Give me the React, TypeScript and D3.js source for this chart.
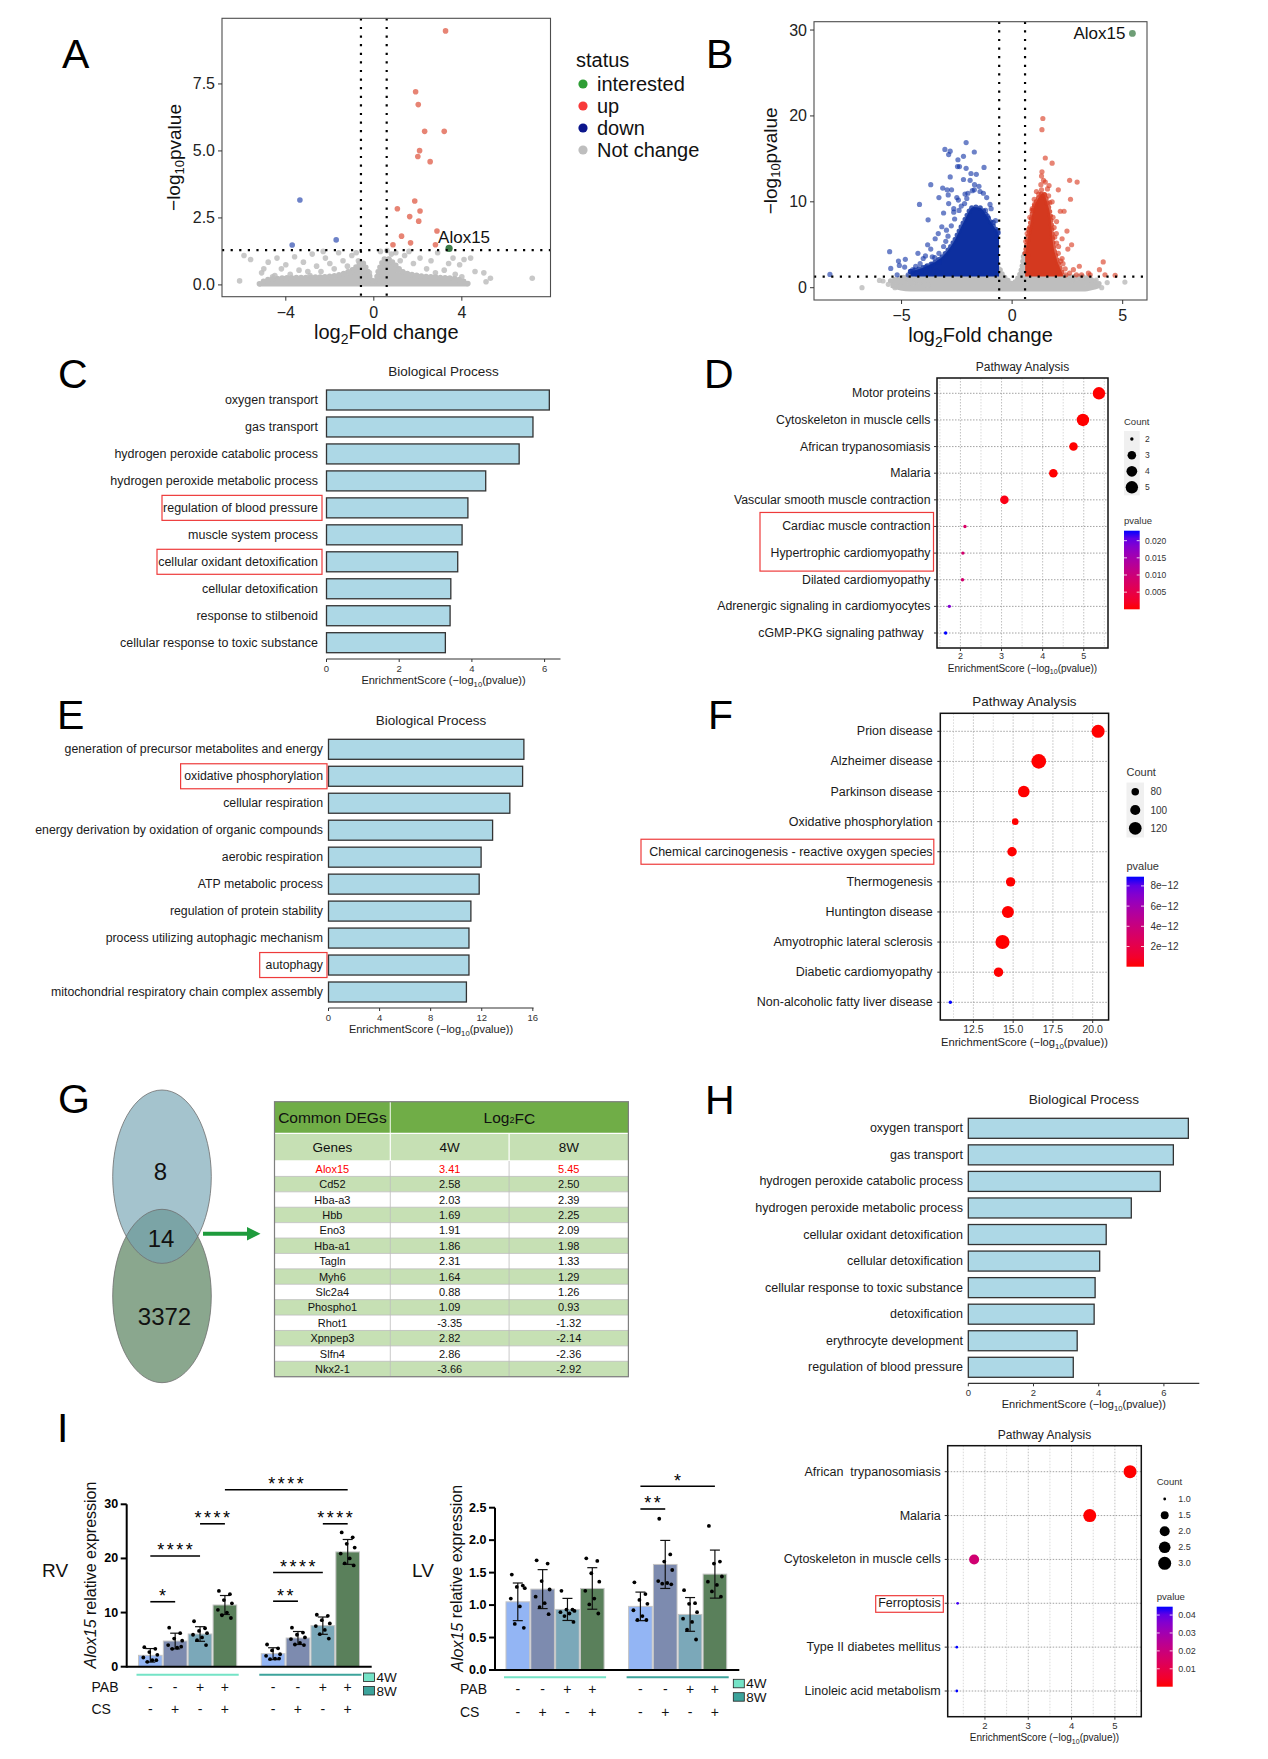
import React from "react";
import * as d3 from "d3";

const FONT = "'Liberation Sans', Arial, Helvetica, sans-serif";
type P2 = [number, number];
type P3 = [number, number, number];

/* ---------------- thresholds ---------------- */
const fcCut = 0.585;
const pCut = 1.301;

/* ---------------- A: volcano ---------------- */
const aUp: P2[] = [[3.26,9.48],[1.9,7.21],[2.02,6.73],[2.31,5.73],[3.2,5.73],[2.08,5.01],[2.0,4.79],[2.56,4.6],[1.86,3.13],[1.07,2.84],[2.1,2.76],[1.63,2.55],[2.04,2.38],[2.87,2.01],[1.26,1.82],[1.67,1.57],[0.87,1.5],[2.8,1.5]];
const aDown: P2[] = [[-3.36,3.17],[-1.71,1.68],[-3.71,1.49]];
const aInterested: P2[] = [[3.42,1.36]];
const aGreyCore: P3[] = [[-5.2,-0.06,0.04],[-4.8,-0.06,0.2],[-4.0,-0.06,0.26],[-3.0,-0.06,0.28],[-2.0,-0.06,0.32],[-1.4,-0.06,0.42],[-0.9,-0.06,0.6],[-0.55,-0.06,0.85],[-0.3,-0.06,0.55],[-0.1,-0.06,0.18],[0,-0.06,0.1],[0.1,-0.06,0.22],[0.3,-0.06,0.7],[0.55,-0.06,1.0],[0.85,-0.06,0.85],[1.3,-0.06,0.5],[2.0,-0.06,0.35],[3.0,-0.06,0.28],[3.8,-0.06,0.22],[4.3,-0.06,0.04]];
const aGrey: P2[] = [[-6.1,0.15],[-5.9,1.1],[-5.6,0.95],[-5.1,0.45],[-5.0,0.6],[-4.8,0.85],[-4.6,0.3],[-4.4,1.0],[-4.2,0.6],[-4.0,0.75],[-3.8,0.4],[-3.6,1.05],[-3.4,0.55],[-3.2,0.85],[-3.0,0.5],[-2.8,1.15],[-2.6,0.7],[-2.4,0.5],[-2.2,1.0],[-2.0,0.8],[-1.8,0.6],[-1.6,1.2],[-1.4,0.9],[-1.2,0.7],[-1.0,1.1],[-0.8,1.2],[0.3,1.25],[0.6,1.28],[0.8,1.15],[1.0,1.2],[1.2,0.9],[1.4,1.1],[1.6,1.25],[1.8,0.8],[2.1,1.0],[2.4,0.6],[2.6,0.9],[2.9,1.2],[3.2,0.55],[3.4,0.8],[3.6,1.0],[3.7,0.4],[3.9,0.75],[4.1,0.95],[4.4,1.0],[4.6,0.5],[5.0,0.45],[5.1,0.12],[5.3,0.25],[7.2,0.25],[-2.3,1.25],[0.45,0.5],[-0.45,0.5],[1.9,0.3],[-1.9,0.25],[-0.7,0.9],[0.7,0.95],[-0.2,0.45],[0.2,0.5],[-1.1,0.45],[1.1,0.55],[2.8,0.45],[-2.9,0.35],[4.0,0.3],[-4.5,0.35]];
const aXTicks = [-4, 0, 4];
const aYTicks = [0, 2.5, 5, 7.5];

/* ---------------- B: volcano ---------------- */
const bUp: P2[] = [[1.39,19.7],[1.35,18.4],[1.5,15.1],[1.81,14.5],[1.35,13.5],[1.33,13.0],[1.42,12.5],[2.6,12.5],[2.94,12.3],[1.67,11.9],[2.09,11.4],[1.33,11.4],[2.64,10.3],[1.81,10.0],[1.01,9.7],[0.91,9.2],[2.18,8.9],[2.35,8.9],[2.01,7.7],[2.48,6.6],[1.93,5.9],[2.26,5.7],[2.01,5.2],[2.69,5.0],[2.52,4.5],[2.09,4.0],[2.26,3.4],[3.04,2.5],[4.12,3.0],[2.77,2.1],[3.95,2.1],[3.45,1.7],[3.53,1.5],[2.91,1.5],[4.2,1.5],[4.66,1.45],[2.43,1.5],[3.14,1.5],[2.6,1.7],[1.3,12.0],[1.5,12.3],[1.1,11.2],[1.7,9.9],[0.9,9.0],[0.75,6.8],[1.9,7.0],[2.1,4.8],[0.7,3.8],[1.6,11.5],[2.3,2.8],[2.4,2.2],[1.2,10.9],[1.45,10.8],[1.0,10.3],[0.8,8.2],[1.85,8.2],[2.0,6.3],[2.2,3.1],[1.65,10.7],[0.68,6.3],[0.62,5.4]];
const bDown: P2[] = [[-3.04,16.1],[-2.8,15.9],[-2.87,15.5],[-2.08,16.9],[-2.2,15.3],[-2.45,14.9],[-1.71,15.8],[-2.47,14.1],[-2.38,14.1],[-1.27,14.0],[-2.08,13.9],[-1.86,13.3],[-1.62,13.2],[-2.8,12.9],[-2.2,12.6],[-3.68,12.0],[-3.14,11.6],[-2.94,11.4],[-2.74,11.4],[-1.71,11.4],[-2.13,10.9],[-3.31,10.5],[-2.89,10.8],[-2.43,10.2],[-4.19,9.7],[-2.87,9.8],[-2.64,9.2],[-1.2,9.0],[-3.1,8.7],[-2.64,8.8],[-3.8,7.9],[-1.11,8.3],[-3.18,7.1],[-2.97,6.7],[-3.34,6.3],[-3.48,5.7],[-3.82,5.0],[-3.68,4.5],[-5.54,4.2],[-4.26,4.0],[-3.92,3.7],[-4.02,3.4],[-5.14,3.1],[-4.83,3.3],[-5.1,2.6],[-4.86,2.4],[-5.49,2.25],[-4.36,2.5],[-4.49,2.1],[-4.58,1.9],[-5.2,1.5],[-4.7,1.5],[-4.14,1.9],[-3.73,2.1],[-3.41,1.9],[-8.24,1.55],[-4.16,2.8],[-3.61,3.6],[-3.31,4.0],[-1.5,11.8],[-1.7,12.0],[-1.3,11.0],[-1.0,9.7],[-2.0,11.0],[-2.3,9.5],[-2.6,8.0],[-2.9,6.0],[-3.1,4.8],[-3.5,3.5],[-0.85,7.6],[-0.7,5.8],[-1.15,10.5],[-1.9,12.5],[-2.5,10.5],[-2.75,7.2],[-3.0,5.4],[-3.3,3.0],[-2.4,9.0],[-2.15,9.8],[-1.45,11.2],[-0.95,9.2],[-0.75,7.8],[-0.65,6.6],[-3.9,2.4],[-4.3,1.6],[-3.6,2.7],[-2.05,10.4],[-1.8,11.3]];
const bInterested: P2[] = [[5.44,29.6]];
const bDownCore: P3[] = [[-4.6,1.3,1.9],[-3.8,1.3,2.6],[-3.25,1.3,3.4],[-2.65,1.3,5.3],[-2.2,1.3,7.6],[-1.75,1.3,9.4],[-1.45,1.3,9.3],[-1.1,1.3,8.2],[-0.8,1.3,7.0],[-0.62,1.3,6.3],[-0.59,1.3,6.0]];
const bUpCore: P3[] = [[0.59,1.3,4.0],[0.65,1.3,4.8],[0.95,1.3,9.0],[1.2,1.3,10.5],[1.4,1.3,11.0],[1.6,1.3,9.8],[1.75,1.3,8.0],[1.85,1.3,5.2],[2.0,1.3,3.5],[2.15,1.3,2.4],[2.3,1.3,1.5]];
const bGreyCore: P3[] = [[-5.5,0.0,0.8],[-4.6,-0.45,1.3],[-1.0,-0.45,1.3],[-0.6,-0.45,2.3],[-0.45,-0.45,1.6],[-0.2,-0.45,0.9],[0,-0.45,0.5],[0.2,-0.45,0.9],[0.45,-0.45,2.5],[0.55,-0.45,4.0],[0.62,-0.45,1.3],[3.2,-0.45,1.3],[3.6,-0.3,0.9],[4.0,0.0,0.4]];
const bGrey: P2[] = [[-6.79,0],[-5.3,0],[-5.84,0.78],[-5.2,0.7],[-4.83,0.5],[4.05,0],[5.1,0.66],[3.6,0.9],[2.94,1.1],[2.69,0.9],[3.28,0.5],[-4.16,0.7],[-3.82,0.3],[-4.5,0.5],[-0.6,2.2],[-0.65,1.9],[0.58,3.6],[0.55,2.9],[0.62,2.5],[-0.55,1.6],[0.5,2.0],[-6.0,0.85],[-4.2,0.9],[3.8,0.9],[4.3,0.6],[-5.6,0.4]];
const bXTicks = [-5, 0, 5];
const bYTicks = [0, 10, 20, 30];

/* ---------------- GO bar data ---------------- */
const cTerms = ["oxygen transport","gas transport","hydrogen peroxide catabolic process","hydrogen peroxide metabolic process","regulation of blood pressure","muscle system process","cellular oxidant detoxification","cellular detoxification","response to stilbenoid","cellular response to toxic substance"];
const cScores = [6.13,5.68,5.3,4.38,3.89,3.73,3.61,3.42,3.40,3.27];
const cTicks = [0, 2, 4, 6];

const eTerms = ["generation of precursor metabolites and energy","oxidative phosphorylation","cellular respiration","energy derivation by oxidation of organic compounds","aerobic respiration","ATP metabolic process","regulation of protein stability","process utilizing autophagic mechanism","autophagy","mitochondrial respiratory chain complex assembly"];
const eScores = [15.3,15.2,14.2,12.85,11.95,11.8,11.15,11.0,11.0,10.8];
const eTicks = [0, 4, 8, 12, 16];

const hTerms = ["oxygen transport","gas transport","hydrogen peroxide catabolic process","hydrogen peroxide metabolic process","cellular oxidant detoxification","cellular detoxification","cellular response to toxic substance","detoxification","erythrocyte development","regulation of blood pressure"];
const hScores = [6.75,6.29,5.89,5.0,4.23,4.03,3.89,3.86,3.34,3.22];
const hTicks = [0, 2, 4, 6];

/* ---------------- pathway dot data ---------------- */
const dTerms = ["Motor proteins","Cytoskeleton in muscle cells","African trypanosomiasis","Malaria","Vascular smooth muscle contraction","Cardiac muscle contraction","Hypertrophic cardiomyopathy","Dilated cardiomyopathy","Adrenergic signaling in cardiomyocytes","cGMP-PKG signaling pathway  "];
const dScores = [5.37,4.98,4.75,4.26,3.07,2.11,2.06,2.05,1.73,1.64];
const dCounts = [5,5,3,3,3,2,2,2,2,2];
const dTicks = [2, 3, 4, 5];
const dCountLegend = [2, 3, 4, 5];
const dPLegend = [0.02, 0.015, 0.01, 0.005];

const fTerms = ["Prion disease","Alzheimer disease","Parkinson disease","Oxidative phosphorylation","Chemical carcinogenesis - reactive oxygen species","Thermogenesis","Huntington disease","Amyotrophic lateral sclerosis","Diabetic cardiomyopathy","Non-alcoholic fatty liver disease"];
const fScores = [20.34,16.61,15.67,15.13,14.93,14.84,14.67,14.33,14.08,11.05];
const fCounts = [123,135,112,73,95,95,115,131,95,48];
const fTicks = [12.5, 15, 17.5, 20];
const fCountLegend = [80, 100, 120];
const fPLegend = [8e-12, 6e-12, 4e-12, 2e-12];

const iTerms = ["African  trypanosomiasis","Malaria","Cytoskeleton in muscle cells","Ferroptosis","Type II diabetes mellitus","Linoleic acid metabolism"];
const iScores = [5.35,4.42,1.75,1.37,1.35,1.35];
const iCounts = [3,3,2,1,1,1];
const iTicks = [2, 3, 4, 5];
const iCountLegend = [1, 1.5, 2, 2.5, 3];
const iPLegend = [0.04, 0.03, 0.02, 0.01];

/* ---------------- G: table ---------------- */
const genes = ["Alox15","Cd52","Hba-a3","Hbb","Eno3","Hba-a1","Tagln","Myh6","Slc2a4","Phospho1","Rhot1","Xpnpep3","Slfn4","Nkx2-1"];
const fc4w = [3.41,2.58,2.03,1.69,1.91,1.86,2.31,1.64,0.88,1.09,-3.35,2.82,2.86,-3.66];
const fc8w = [5.45,2.50,2.39,2.25,2.09,1.98,1.33,1.29,1.26,0.93,-1.32,-2.14,-2.36,-2.92];
const vennCounts = { only4w: 8, common: 14, only8w: 3372 };

/* ---------------- I: qPCR ---------------- */
const weeks = ["4W", "8W"];
const pabSigns = ["-", "-", "+", "+"];
const csSigns = ["-", "+", "-", "+"];
const rvMeans = [2.1,4.74,6.04,11.4,2.4,5.3,7.58,21.2];
const rvSD = [1.25,1.45,1.35,1.75,1.1,1.2,1.6,2.3];
const rvDots = [
  [3.6,3.3,2.7,2.2,1.7,1.2,0.9,1.2],
  [7.2,6.2,5.2,4.8,4.0,3.5,3.3,3.7],
  [8.4,7.1,6.6,6.2,5.9,5.4,4.9,4.0],
  [14.0,13.4,12.3,11.7,10.5,10.0,9.5,9.0],
  [4.1,3.4,3.0,2.3,2.0,1.5,1.4,1.5],
  [7.2,6.3,5.9,5.4,5.1,4.4,4.1,4.0],
  [9.6,9.4,8.6,8.0,7.5,6.8,6.0,5.2],
  [24.8,23.9,22.7,22.0,20.9,20.0,19.1,18.7],
];
const rvTicks = [0, 10, 20, 30];
const rvSig = [
  { a: 0, b: 1, y: 12.0, t: "*" },
  { a: 0, b: 2, y: 20.45, t: "****" },
  { a: 2, b: 3, y: 26.4, t: "****" },
  { a: 4, b: 5, y: 12.1, t: "**" },
  { a: 4, b: 6, y: 17.4, t: "****" },
  { a: 6, b: 7, y: 26.4, t: "****" },
  { a: 3, b: 7, y: 32.7, t: "****" },
];
const lvMeans = [1.05,1.246,0.933,1.256,0.98,1.626,0.856,1.477];
const lvSD = [0.29,0.30,0.17,0.32,0.22,0.37,0.26,0.37];
const lvDots = [
  [1.47,1.30,1.28,1.26,1.1,0.98,0.71,0.65],
  [1.69,1.64,1.37,1.24,1.13,1.03,0.97,0.86],
  [1.22,0.93,0.93,0.91,0.89,0.87,0.83,0.74],
  [1.72,1.68,1.49,1.36,1.22,1.10,1.01,0.87],
  [1.35,1.17,1.08,1.02,0.92,0.83,0.77,0.77],
  [2.33,1.78,1.67,1.54,1.37,1.34,1.33,1.32],
  [1.23,1.03,1.02,0.89,0.79,0.74,0.62,0.47],
  [2.22,1.67,1.64,1.44,1.36,1.31,1.21,1.13],
];
const lvTicks = [0, 0.5, 1, 1.5, 2, 2.5];
const lvSig = [
  { a: 4, b: 5, y: 2.48, t: "**" },
  { a: 4, b: 7, y: 2.83, t: "*" },
];

/* ---------------- styles ---------------- */
const barColors = ["#93B5F4", "#7D8BAF", "#7BA8B9", "#5A805B"];
const weekColors = ["#74E3C6", "#3CA39B"];
const dotOffsets = [-6, 5, -1, 7, -7, 2, -3, 6];

function EnrichTitle({ x, y, fs }: any) {
  return (
    <text x={x} y={y} fontSize={fs} textAnchor="middle" fill="#222">
      EnrichmentScore (−log
      <tspan fontSize={fs * 0.7} dy={fs * 0.25}>10</tspan>
      <tspan dy={-fs * 0.25}>(pvalue))</tspan>
    </text>
  );
}

function Volcano(p: any) {
  const xs = d3.scaleLinear().domain(p.xDom).range([p.x0, p.x1]);
  const ys = d3.scaleLinear().domain(p.yDom).range([p.y1, p.y0]);
  const area = d3.area<P3>().x((d) => xs(d[0])).y0((d) => ys(d[1])).y1((d) => ys(d[2])).curve(d3.curveMonotoneX);
  const top = d3.line<P3>().x((d) => xs(d[0])).y((d) => ys(d[2])).curve(d3.curveMonotoneX);
  const cid = `clip-${p.id}`;
  const r = p.r;
  const dash = { stroke: "#000", strokeWidth: 2.2, strokeDasharray: "2.2,6.4" };
  const fs = 16;
  const bead = (core: P3[], color: string, op: number) => (
    <path d={top(core) || ""} fill="none" stroke={color} strokeOpacity={op} strokeWidth={r * 2} strokeLinecap="round" strokeDasharray={`0,${r * 1.7}`} />
  );
  return (
    <g>
      <defs>
        <clipPath id={cid}>
          <rect x={p.x0} y={p.y0} width={p.x1 - p.x0} height={p.y1 - p.y0} />
        </clipPath>
      </defs>
      <g clipPath={`url(#${cid})`}>
        <path d={area(p.greyCore) || ""} fill="#BEBEBE" />
        {bead(p.greyCore, "#BEBEBE", 1)}
        {p.grey.map((d: P2, i: number) => (
          <circle key={"g" + i} cx={xs(d[0])} cy={ys(d[1])} r={r} fill="#BEBEBE" fillOpacity={0.85} />
        ))}
        {p.downCore && <path d={area(p.downCore) || ""} fill="#0D2F9F" />}
        {p.downCore && bead(p.downCore, "#0D2F9F", 0.8)}
        {p.down.map((d: P2, i: number) => (
          <circle key={"d" + i} cx={xs(d[0])} cy={ys(d[1])} r={r} fill="#0B2FA3" fillOpacity={0.6} />
        ))}
        {p.upCore && <path d={area(p.upCore) || ""} fill="#D4391F" />}
        {p.upCore && bead(p.upCore, "#D4391F", 0.8)}
        {p.up.map((d: P2, i: number) => (
          <circle key={"u" + i} cx={xs(d[0])} cy={ys(d[1])} r={r} fill="#D9381E" fillOpacity={0.62} />
        ))}
        {p.interest.map((d: P2, i: number) => (
          <circle key={"i" + i} cx={xs(d[0])} cy={ys(d[1])} r={r + 0.8} fill={p.interestFill} />
        ))}
        <line x1={xs(-fcCut)} x2={xs(-fcCut)} y1={p.y0} y2={p.y1} {...dash} />
        <line x1={xs(fcCut)} x2={xs(fcCut)} y1={p.y0} y2={p.y1} {...dash} />
        <line x1={p.x0} x2={p.x1} y1={ys(pCut)} y2={ys(pCut)} {...dash} />
      </g>
      <rect x={p.x0} y={p.y0} width={p.x1 - p.x0} height={p.y1 - p.y0} fill="none" stroke="#4d4d4d" strokeWidth={1.1} />
      {p.xTicks.map((t: number) => (
        <g key={"xt" + t}>
          <line x1={xs(t)} x2={xs(t)} y1={p.y1} y2={p.y1 + 4} stroke="#333" strokeWidth={1} />
          <text x={xs(t)} y={p.y1 + 21} fontSize={fs} textAnchor="middle" fill="#222">{d3.format("")(t)}</text>
        </g>
      ))}
      {p.yTicks.map((t: number) => (
        <g key={"yt" + t}>
          <line x1={p.x0 - 4} x2={p.x0} y1={ys(t)} y2={ys(t)} stroke="#333" strokeWidth={1} />
          <text x={p.x0 - 7} y={ys(t) + 5.5} fontSize={fs} textAnchor="end" fill="#222">{d3.format(p.yFmt)(t)}</text>
        </g>
      ))}
      <text transform={`translate(${p.yTitleX},${(p.y0 + p.y1) / 2}) rotate(-90)`} textAnchor="middle" dominantBaseline="central" fontSize={19} fill="#111">
        −log<tspan fontSize={13} dy={5}>10</tspan><tspan dy={-5}>pvalue</tspan>
      </text>
      <text x={(p.x0 + p.x1) / 2} y={p.xTitleY} textAnchor="middle" fontSize={20} fill="#111">
        log<tspan fontSize={14} dy={5}>2</tspan><tspan dy={-5}>Fold change</tspan>
      </text>
      <text x={xs(p.interest[0][0]) + p.labelDx} y={ys(p.interest[0][1]) + p.labelDy} textAnchor={p.labelAnchor} fontSize={17} fill="#111">Alox15</text>
    </g>
  );
}

function GoBars(p: any) {
  const xs = d3.scaleLinear().domain([0, p.tickMax]).range([p.xLeft, p.xLeft + p.unit * p.tickMax]);
  const ys = d3.scalePoint<string>().domain(p.terms).range([p.yFirst, p.yLast]);
  const bh = 20;
  return (
    <g>
      <text x={p.cx} y={p.titleY} fontSize={13.5} textAnchor="middle" dominantBaseline="central" fill="#222">Biological Process</text>
      {p.terms.map((t: string, i: number) => (
        <g key={t}>
          <rect x={xs(0)} y={(ys(t) as number) - bh / 2} width={xs(p.scores[i]) - xs(0)} height={bh} fill="#ADD8E6" stroke="#333" strokeWidth={1.3} />
          <text x={p.labelX} y={ys(t)} textAnchor="end" dominantBaseline="central" fontSize={p.labelFs} fill="#1a1a1a">{t}</text>
        </g>
      ))}
      {p.boxes.map((b: any) => (
        <rect key={b.term} x={b.left} y={(ys(b.term) as number) - 12.5} width={p.labelX + 4 - b.left} height={25} fill="none" stroke="#EE3B3B" strokeWidth={1.2} />
      ))}
      <line x1={xs(0)} x2={p.axisEnd} y1={p.axisY} y2={p.axisY} stroke="#333" strokeWidth={1.2} />
      {p.ticks.map((t: number) => (
        <g key={t}>
          <line x1={xs(t)} x2={xs(t)} y1={p.axisY} y2={p.axisY + 3} stroke="#333" />
          <text x={xs(t)} y={p.axisY + 12.5} fontSize={9.5} textAnchor="middle" fill="#333">{t}</text>
        </g>
      ))}
      <EnrichTitle x={p.cx} y={p.xTitleY} fs={11} />
    </g>
  );
}

function sqrtSize(domain: number[], rMin: number, rMax: number) {
  return (v: number) => rMin + (rMax - rMin) * Math.sqrt(Math.max(0, (v - domain[0]) / (domain[1] - domain[0])));
}
function linSize(domain: number[], rMin: number, rMax: number) {
  return (v: number) => rMin + (rMax - rMin) * ((v - domain[0]) / (domain[1] - domain[0]));
}

function Pathway(p: any) {
  const [bx0, bx1, by0, by1] = p.box;
  const xs = d3.scaleLinear().domain(p.xDom).range([bx0, bx1]);
  const ys = d3.scalePoint<string>().domain(p.terms).range([p.yFirst, p.yLast]);
  const pv = p.scores.map((s: number) => Math.pow(10, -s));
  const pMax = d3.max(pv) as number;
  const col = d3.scaleLinear<string>().domain([0, pMax]).range(["#FF0000", "#0000FF"]).interpolate(d3.interpolateLab).clamp(true);
  const L = p.legend;
  const barScale = d3.scaleLinear().domain([0, pMax]).range([L.barY1, L.barY0]);
  const gid = `grad-${p.id}`;
  const stops = d3.range(0, 1.0001, 0.1);
  return (
    <g>
      <text x={(bx0 + bx1) / 2} y={p.titleY} fontSize={p.titleFs} textAnchor="middle" dominantBaseline="central" fill="#222">Pathway Analysis</text>
      <rect x={bx0} y={by0} width={bx1 - bx0} height={by1 - by0} fill="#fff" />
      {p.minor.map((t: number) => (
        <line key={"mi" + t} x1={xs(t)} x2={xs(t)} y1={by0} y2={by1} stroke="#C8C8C8" strokeWidth={0.7} strokeDasharray="1.5,1.5" />
      ))}
      {p.ticks.map((t: number) => (
        <line key={"ma" + t} x1={xs(t)} x2={xs(t)} y1={by0} y2={by1} stroke="#B0B0B0" strokeWidth={0.8} strokeDasharray="1.5,1.5" />
      ))}
      {p.terms.map((t: string) => (
        <line key={"h" + t} x1={bx0} x2={bx1} y1={ys(t)} y2={ys(t)} stroke="#8C8C8C" strokeWidth={0.8} strokeDasharray="1.5,1.5" />
      ))}
      {p.terms.map((t: string, i: number) => (
        <circle key={"c" + t} cx={xs(p.scores[i])} cy={ys(t)} r={p.rFn(p.counts[i])} fill={col(pv[i])} />
      ))}
      <rect x={bx0} y={by0} width={bx1 - bx0} height={by1 - by0} fill="none" stroke="#111" strokeWidth={1.5} />
      {p.terms.map((t: string) => (
        <g key={"l" + t}>
          <line x1={bx0 - 3} x2={bx0} y1={ys(t)} y2={ys(t)} stroke="#333" />
          <text x={p.labelX} y={ys(t)} textAnchor="end" dominantBaseline="central" fontSize={p.labelFs} fill="#1a1a1a" style={{ whiteSpace: "pre" }}>{t}</text>
        </g>
      ))}
      {p.ticks.map((t: number) => (
        <g key={"t" + t}>
          <line x1={xs(t)} x2={xs(t)} y1={by1} y2={by1 + 3} stroke="#333" />
          <text x={xs(t)} y={by1 + p.tickDy} fontSize={p.tickFs} textAnchor="middle" fill="#333">{p.tickFmt(t)}</text>
        </g>
      ))}
      <EnrichTitle x={(bx0 + bx1) / 2} y={p.xTitleY} fs={p.xTitleFs} />
      {p.highlight && (
        <rect x={p.highlight.left} y={(ys(p.highlight.from) as number) - p.highlight.padTop} width={p.highlight.right - p.highlight.left}
          height={(ys(p.highlight.to) as number) - (ys(p.highlight.from) as number) + p.highlight.padTop + p.highlight.padBot}
          fill="none" stroke="#EE3B3B" strokeWidth={1.2} />
      )}
      <text x={L.x} y={L.countTitleY} fontSize={L.titleFs} dominantBaseline="central" fill="#333">Count</text>
      {L.countBg && (
        <rect x={L.x} y={L.countItems[0] - L.countStep / 2} width={L.barW} height={L.countStep * L.countVals.length} fill="#F0F0F0" />
      )}
      {L.countVals.map((v: number, i: number) => (
        <g key={"cl" + v}>
          <circle cx={L.x + L.barW / 2} cy={L.countItems[i]} r={p.rFn(v)} fill="#000" />
          <text x={L.labelX} y={L.countItems[i]} fontSize={L.labelFs} dominantBaseline="central" fill="#333">{L.countFmt(v)}</text>
        </g>
      ))}
      <text x={L.x} y={L.pTitleY} fontSize={L.titleFs} dominantBaseline="central" fill="#333">pvalue</text>
      <defs>
        <linearGradient id={gid} x1="0" y1="1" x2="0" y2="0">
          {stops.map((s: number) => (
            <stop key={s} offset={s} stopColor={col(s * pMax)} />
          ))}
        </linearGradient>
      </defs>
      <rect x={L.x} y={L.barY0} width={L.barW} height={L.barY1 - L.barY0} fill={`url(#${gid})`} />
      {L.pVals.map((v: number) => (
        <g key={"pl" + v}>
          <line x1={L.x} x2={L.x + 3} y1={barScale(v)} y2={barScale(v)} stroke="#fff" strokeWidth={0.8} />
          <line x1={L.x + L.barW - 3} x2={L.x + L.barW} y1={barScale(v)} y2={barScale(v)} stroke="#fff" strokeWidth={0.8} />
          <text x={L.labelX} y={barScale(v)} fontSize={L.labelFs} dominantBaseline="central" fill="#333">{L.pFmt(v)}</text>
        </g>
      ))}
    </g>
  );
}

function Venn() {
  const cx = 162, rx = 49.3, ry = 86.7, cyTop = 1176.7, cyBot = 1296;
  return (
    <g>
      <defs>
        <clipPath id="vennTop">
          <ellipse cx={cx} cy={cyTop} rx={rx} ry={ry} />
        </clipPath>
      </defs>
      <ellipse cx={cx} cy={cyBot} rx={rx} ry={ry} fill="#8AA78E" />
      <ellipse cx={cx} cy={cyTop} rx={rx} ry={ry} fill="#A4C3CD" />
      <ellipse cx={cx} cy={cyBot} rx={rx} ry={ry} fill="#7BA4A6" clipPath="url(#vennTop)" />
      <ellipse cx={cx} cy={cyBot} rx={rx} ry={ry} fill="none" stroke="#6d6d6d" strokeWidth={0.8} />
      <ellipse cx={cx} cy={cyTop} rx={rx} ry={ry} fill="none" stroke="#6d6d6d" strokeWidth={0.8} />
      <text x={160.5} y={1171.7} fontSize={24} textAnchor="middle" dominantBaseline="central" fill="#111">{vennCounts.only4w}</text>
      <text x={161} y={1238.3} fontSize={24} textAnchor="middle" dominantBaseline="central" fill="#111">{vennCounts.common}</text>
      <text x={164.5} y={1316.7} fontSize={24} textAnchor="middle" dominantBaseline="central" fill="#111">{vennCounts.only8w}</text>
      <line x1={203} x2={250} y1={1233.7} y2={1233.7} stroke="#1E9B3C" strokeWidth={4} />
      <path d="M247,1227 L260.5,1233.7 L247,1240.4 Z" fill="#1E9B3C" />
    </g>
  );
}

function DegTable() {
  const x0 = 274.5, x1 = 628.4, c1 = 390.3, c2 = 509.1;
  const h1Top = 1101.7, h1Bot = 1133.3, h2Bot = 1161, rowsBot = 1376.7;
  const rows = d3.scaleBand<string>().domain(genes).range([h2Bot, rowsBot]);
  const rh = rows.bandwidth();
  const colC = [(x0 + c1) / 2, (c1 + c2) / 2, (c2 + x1) / 2];
  return (
    <g>
      <rect x={x0} y={h1Top} width={x1 - x0} height={h1Bot - h1Top} fill="#70AD47" />
      <rect x={x0} y={h1Bot} width={x1 - x0} height={h2Bot - h1Bot} fill="#C6E0B4" />
      {genes.map((g, i) => (
        <rect key={"r" + g} x={x0} y={rows(g)} width={x1 - x0} height={rh} fill={i % 2 === 0 ? "#FFFFFF" : "#C6E0B4"} />
      ))}
      {genes.map((g) => (
        <line key={"rl" + g} x1={x0} x2={x1} y1={(rows(g) as number) + rh} y2={(rows(g) as number) + rh} stroke="#BDBDBD" strokeWidth={0.8} />
      ))}
      <line x1={c1} x2={c1} y1={h1Top} y2={h1Bot} stroke="#E5F0DC" strokeWidth={1.2} />
      <line x1={x0} x2={x1} y1={h1Bot} y2={h1Bot} stroke="#FFFFFF" strokeWidth={1.2} />
      <line x1={c1} x2={c1} y1={h1Bot} y2={h2Bot} stroke="#FFFFFF" strokeWidth={1.2} />
      <line x1={c2} x2={c2} y1={h1Bot} y2={h2Bot} stroke="#FFFFFF" strokeWidth={1.2} />
      <line x1={x0} x2={x1} y1={h2Bot} y2={h2Bot} stroke="#FFFFFF" strokeWidth={1.5} />
      <line x1={c1} x2={c1} y1={h2Bot} y2={rowsBot} stroke="#BDBDBD" strokeWidth={0.8} />
      <line x1={c2} x2={c2} y1={h2Bot} y2={rowsBot} stroke="#BDBDBD" strokeWidth={0.8} />
      <rect x={x0} y={h1Top} width={x1 - x0} height={rowsBot - h1Top} fill="none" stroke="#7F7F7F" strokeWidth={1.2} />
      <text x={colC[0]} y={(h1Top + h1Bot) / 2} fontSize={15.5} textAnchor="middle" dominantBaseline="central" fill="#111">Common DEGs</text>
      <text x={(c1 + x1) / 2} y={(h1Top + h1Bot) / 2} fontSize={15.5} textAnchor="middle" dominantBaseline="central" fill="#111">
        Log<tspan fontSize={9} dy={2}>2</tspan><tspan dy={-2}>FC</tspan>
      </text>
      <text x={colC[0]} y={(h1Bot + h2Bot) / 2} fontSize={13.5} textAnchor="middle" dominantBaseline="central" fill="#111">Genes</text>
      <text x={colC[1]} y={(h1Bot + h2Bot) / 2} fontSize={13.5} textAnchor="middle" dominantBaseline="central" fill="#111">4W</text>
      <text x={colC[2]} y={(h1Bot + h2Bot) / 2} fontSize={13.5} textAnchor="middle" dominantBaseline="central" fill="#111">8W</text>
      {genes.map((g, i) => {
        const y = (rows(g) as number) + rh / 2;
        const fill = i === 0 ? "#FF0000" : "#111";
        return (
          <g key={"t" + g}>
            <text x={colC[0]} y={y} fontSize={11} textAnchor="middle" dominantBaseline="central" fill={fill}>{g}</text>
            <text x={colC[1]} y={y} fontSize={11} textAnchor="middle" dominantBaseline="central" fill={fill}>{fc4w[i].toFixed(2)}</text>
            <text x={colC[2]} y={y} fontSize={11} textAnchor="middle" dominantBaseline="central" fill={fill}>{fc8w[i].toFixed(2)}</text>
          </g>
        );
      })}
    </g>
  );
}

function Expr(p: any) {
  const ys = d3.scaleLinear().domain(p.yDom).range(p.yRange);
  const gx = d3.scaleBand<string>().domain(weeks).range(p.groupRange).paddingInner(0.2);
  const bx = d3.scaleBand<number>().domain([0, 1, 2, 3]).range([0, gx.bandwidth()]).paddingInner(0.05);
  const left = (i: number) => (gx(weeks[Math.floor(i / 4)]) as number) + (bx(i % 4) as number);
  const cx = (i: number) => left(i) + bx.bandwidth() / 2;
  const y0 = ys(0);
  const yTop = ys(p.yDom[1]);
  return (
    <g>
      <text x={p.label.x} y={p.label.y} fontSize={19} dominantBaseline="central" fill="#111">{p.label.text}</text>
      <text transform={`translate(${p.yTitle.x},${p.yTitle.y}) rotate(-90)`} textAnchor="middle" dominantBaseline="central" fontSize={16} fill="#111">
        <tspan fontStyle="italic">Alox15</tspan> relative expression
      </text>
      {p.means.map((m: number, i: number) => (
        <rect key={"b" + i} x={left(i)} y={ys(m)} width={bx.bandwidth()} height={y0 - ys(m)} fill={barColors[i % 4]} stroke="#C4C4C4" strokeWidth={1} />
      ))}
      {p.means.map((m: number, i: number) => (
        <g key={"e" + i} stroke="#111" strokeWidth={1.2}>
          <line x1={cx(i)} x2={cx(i)} y1={ys(m - p.sds[i])} y2={ys(m + p.sds[i])} />
          <line x1={cx(i) - 5} x2={cx(i) + 5} y1={ys(m + p.sds[i])} y2={ys(m + p.sds[i])} />
          <line x1={cx(i) - 5} x2={cx(i) + 5} y1={ys(m - p.sds[i])} y2={ys(m - p.sds[i])} />
        </g>
      ))}
      {p.dots.map((arr: number[], i: number) =>
        arr.map((v: number, j: number) => (
          <circle key={"d" + i + "-" + j} cx={cx(i) + dotOffsets[j]} cy={ys(v)} r={1.9} fill="#000" />
        ))
      )}
      <line x1={p.axisX} x2={p.axisX} y1={y0 + 1} y2={yTop} stroke="#000" strokeWidth={2} />
      <line x1={p.axisX} x2={p.xEnd} y1={y0} y2={y0} stroke="#000" strokeWidth={2} />
      {p.yTicks.map((t: number) => (
        <g key={"yt" + t}>
          <line x1={p.axisX - 6} x2={p.axisX} y1={ys(t)} y2={ys(t)} stroke="#000" strokeWidth={2} />
          <text x={p.axisX - 8.5} y={ys(t)} fontSize={12.5} fontWeight="bold" textAnchor="end" dominantBaseline="central" fill="#000">{d3.format(p.yFmt)(t)}</text>
        </g>
      ))}
      {p.sig.map((s: any, k: number) => (
        <g key={"s" + k}>
          <line x1={cx(s.a)} x2={cx(s.b)} y1={ys(s.y)} y2={ys(s.y)} stroke="#000" strokeWidth={1.6} />
          <text x={(cx(s.a) + cx(s.b)) / 2 + 1} y={ys(s.y) + 0.5} fontSize={18} letterSpacing={2.5} textAnchor="middle" fill="#000">{s.t}</text>
        </g>
      ))}
      {weeks.map((w, k) => (
        <line key={"ul" + w} x1={(gx(w) as number) - 2} x2={(gx(w) as number) + gx.bandwidth() + 2} y1={p.underY} y2={p.underY} stroke={weekColors[k]} strokeWidth={2} />
      ))}
      {weeks.map((w, k) => (
        <g key={"lg" + w}>
          <rect x={p.legX} y={p.legY[k]} width={11} height={8.5} fill={weekColors[k]} stroke="#222" strokeWidth={0.8} />
          <text x={p.legX + 13} y={p.legY[k] + 4.5} fontSize={13.5} dominantBaseline="central" fill="#111">{w}</text>
        </g>
      ))}
      <text x={p.rowLabelX} y={p.pabY} fontSize={14} dominantBaseline="central" fill="#111">PAB</text>
      <text x={p.rowLabelX} y={p.csY} fontSize={14} dominantBaseline="central" fill="#111">CS</text>
      {p.means.map((m: number, i: number) => (
        <g key={"sg" + i}>
          <text x={cx(i)} y={p.pabY} fontSize={14} textAnchor="middle" dominantBaseline="central" fill="#111">{pabSigns[i % 4]}</text>
          <text x={cx(i)} y={p.csY} fontSize={14} textAnchor="middle" dominantBaseline="central" fill="#111">{csSigns[i % 4]}</text>
        </g>
      ))}
    </g>
  );
}

function Letter({ x, y, t }: any) {
  return <text x={x} y={y} fontSize={41} fill="#000">{t}</text>;
}

export default function App() {
  const fmtInt = (v: number) => String(v);
  return (
    <svg width={1268} height={1759} style={{ position: "absolute", left: 0, top: 0, fontFamily: FONT }} xmlns="http://www.w3.org/2000/svg">
      <rect width={1268} height={1759} fill="#fff" />
      <Letter x={62} y={68} t="A" />
      <Letter x={706} y={68} t="B" />
      <Letter x={58} y={388} t="C" />
      <Letter x={704} y={388} t="D" />
      <Letter x={57} y={729} t="E" />
      <Letter x={708} y={729} t="F" />
      <Letter x={58} y={1113} t="G" />
      <Letter x={705} y={1114} t="H" />
      <Letter x={57} y={1441.7} t="I" />

      <Volcano id="A" x0={222} x1={550.5} y0={18.3} y1={296.7} xDom={[-6.9, 8.03]} yDom={[-0.44, 9.95]}
        xTicks={aXTicks} yTicks={aYTicks} yFmt=".1f" r={2.8}
        greyCore={aGreyCore} grey={aGrey} down={aDown} up={aUp} interest={aInterested} interestFill="#3C7A47"
        yTitleX={173.5} xTitleY={339} labelDx={-11} labelDy={-5.5} labelAnchor="start" />
      <g>
        <text x={576} y={60} fontSize={20} dominantBaseline="central" fill="#111">status</text>
        {[
          ["interested", "#2E9E35"],
          ["up", "#F83A3A"],
          ["down", "#0B168C"],
          ["Not change", "#BEBEBE"],
        ].map(([t, c], i) => (
          <g key={t}>
            <circle cx={583} cy={84 + i * 22} r={4.6} fill={c} />
            <text x={597} y={84 + i * 22} fontSize={20} dominantBaseline="central" fill="#111">{t}</text>
          </g>
        ))}
      </g>

      <Volcano id="B" x0={814} x1={1147} y0={21.7} y1={300} xDom={[-8.96, 6.1]} yDom={[-1.43, 30.97]}
        xTicks={bXTicks} yTicks={bYTicks} yFmt="" r={2.6}
        greyCore={bGreyCore} grey={bGrey} downCore={bDownCore} down={bDown} upCore={bUpCore} up={bUp}
        interest={bInterested} interestFill="#6E9E76"
        yTitleX={770} xTitleY={342} labelDx={-7} labelDy={6} labelAnchor="end" />

      <GoBars terms={cTerms} scores={cScores} ticks={cTicks} tickMax={6} xLeft={326.5} unit={36.35} axisEnd={560.5}
        yFirst={400} yLast={642.7} labelX={318} labelFs={12.5} cx={443.5} titleY={371} axisY={659} xTitleY={684}
        boxes={[{ term: "regulation of blood pressure", left: 162 }, { term: "cellular oxidant detoxification", left: 157 }]} />

      <Pathway id="D" terms={dTerms} scores={dScores} counts={dCounts} rFn={sqrtSize([2, 5], 1.7, 6.2)}
        box={[937, 1108, 378, 648]} xDom={[1.43, 5.59]} ticks={dTicks} minor={[1.5, 2.5, 3.5, 4.5, 5.5]}
        tickFmt={fmtInt} tickFs={9} tickDy={11} yFirst={393.3} yLast={633} labelX={930.5} labelFs={12.3}
        titleY={367} titleFs={12} xTitleY={671.5} xTitleFs={10}
        highlight={{ from: "Cardiac muscle contraction", to: "Hypertrophic cardiomyopathy", left: 760, right: 933.5, padTop: 14, padBot: 18 }}
        legend={{ x: 1124, barW: 15.7, countTitleY: 421.7, countBg: true, countItems: [439, 455.3, 471.3, 487.3], countStep: 16.1,
          countVals: dCountLegend, countFmt: fmtInt, labelX: 1145, labelFs: 8.5, titleFs: 9.5,
          pTitleY: 520.7, barY0: 530.7, barY1: 609.3, pVals: dPLegend, pFmt: d3.format(".3f") }} />

      <GoBars terms={eTerms} scores={eScores} ticks={eTicks} tickMax={16} xLeft={328.5} unit={12.77} axisEnd={533.6}
        yFirst={749.3} yLast={992} labelX={323} labelFs={12.3} cx={431} titleY={720} axisY={1008} xTitleY={1033}
        boxes={[{ term: "oxidative phosphorylation", left: 180.6 }, { term: "autophagy", left: 259.7 }]} />

      <Pathway id="F" terms={fTerms} scores={fScores} counts={fCounts} rFn={linSize([48, 135], 1.7, 7.3)}
        box={[940.3, 1108.6, 713.3, 1020]} xDom={[10.42, 21.0]} ticks={fTicks} minor={[11.25, 13.75, 16.25, 18.75]}
        tickFmt={d3.format(".1f")} tickFs={10.5} tickDy={13} yFirst={731.3} yLast={1002.3} labelX={932.6} labelFs={12.5}
        titleY={701.7} titleFs={13.4} xTitleY={1046} xTitleFs={11.2}
        highlight={{ from: "Chemical carcinogenesis - reactive oxygen species", to: "Chemical carcinogenesis - reactive oxygen species", left: 641, right: 933.8, padTop: 12.5, padBot: 12.5 }}
        legend={{ x: 1126.5, barW: 17.5, countTitleY: 771.7, countBg: true, countItems: [791.7, 810, 828.3], countStep: 18.3,
          countVals: fCountLegend, countFmt: fmtInt, labelX: 1150.5, labelFs: 10, titleFs: 11,
          pTitleY: 866, barY0: 876.7, barY1: 966.7, pVals: fPLegend, pFmt: (v: number) => `${Math.round(v * 1e12)}e−12` }} />

      <Venn />
      <DegTable />

      <GoBars terms={hTerms} scores={hScores} ticks={hTicks} tickMax={6} xLeft={968.3} unit={32.6} axisEnd={1199.3}
        yFirst={1128.3} yLast={1367.3} labelX={963} labelFs={12.5} cx={1083.8} titleY={1099.3} axisY={1383.3} xTitleY={1408}
        boxes={[]} />

      <Expr means={rvMeans} sds={rvSD} dots={rvDots} yDom={[0, 30]} yRange={[1666.7, 1504.3]} yTicks={rvTicks} yFmt="d"
        groupRange={[138.5, 359.5]} axisX={126.7} xEnd={371.7} sig={rvSig}
        label={{ text: "RV", x: 42, y: 1570.7 }} yTitle={{ x: 90, y: 1575 }}
        underY={1674.7} legX={363.5} legY={[1673, 1686.5]} rowLabelX={91.5} pabY={1686.7} csY={1709.3} />

      <Expr means={lvMeans} sds={lvSD} dots={lvDots} yDom={[0, 2.5]} yRange={[1670, 1507.7]} yTicks={lvTicks} yFmt=".1f"
        groupRange={[506, 726.7]} axisX={495} xEnd={739.3} sig={lvSig}
        label={{ text: "LV", x: 412, y: 1570 }} yTitle={{ x: 456.7, y: 1578.3 }}
        underY={1677.3} legX={733.3} legY={[1679.3, 1692.7]} rowLabelX={460} pabY={1689.3} csY={1711.7} />

      <Pathway id="I" terms={iTerms} scores={iScores} counts={iCounts} rFn={sqrtSize([1, 3], 1.4, 6.5)}
        box={[947.7, 1141.3, 1445.7, 1716.7]} xDom={[1.14, 5.61]} ticks={iTicks} minor={[1.5, 2.5, 3.5, 4.5, 5.5]}
        tickFmt={fmtInt} tickFs={9.5} tickDy={12} yFirst={1471.7} yLast={1691} labelX={940.7} labelFs={12.5}
        titleY={1435} titleFs={12} xTitleY={1741} xTitleFs={10}
        highlight={{ from: "Ferroptosis", to: "Ferroptosis", left: 875.7, right: 943.3, padTop: 7.6, padBot: 9 }}
        legend={{ x: 1156.7, barW: 16, countTitleY: 1481.7, countBg: false, countItems: [1499, 1515.3, 1531.3, 1547.3, 1563.3], countStep: 16,
          countVals: iCountLegend, countFmt: d3.format(".1f"), labelX: 1178.3, labelFs: 9, titleFs: 9.6,
          pTitleY: 1596.7, barY0: 1606.7, barY1: 1686.7, pVals: iPLegend, pFmt: d3.format(".2f") }} />
    </svg>
  );
}
